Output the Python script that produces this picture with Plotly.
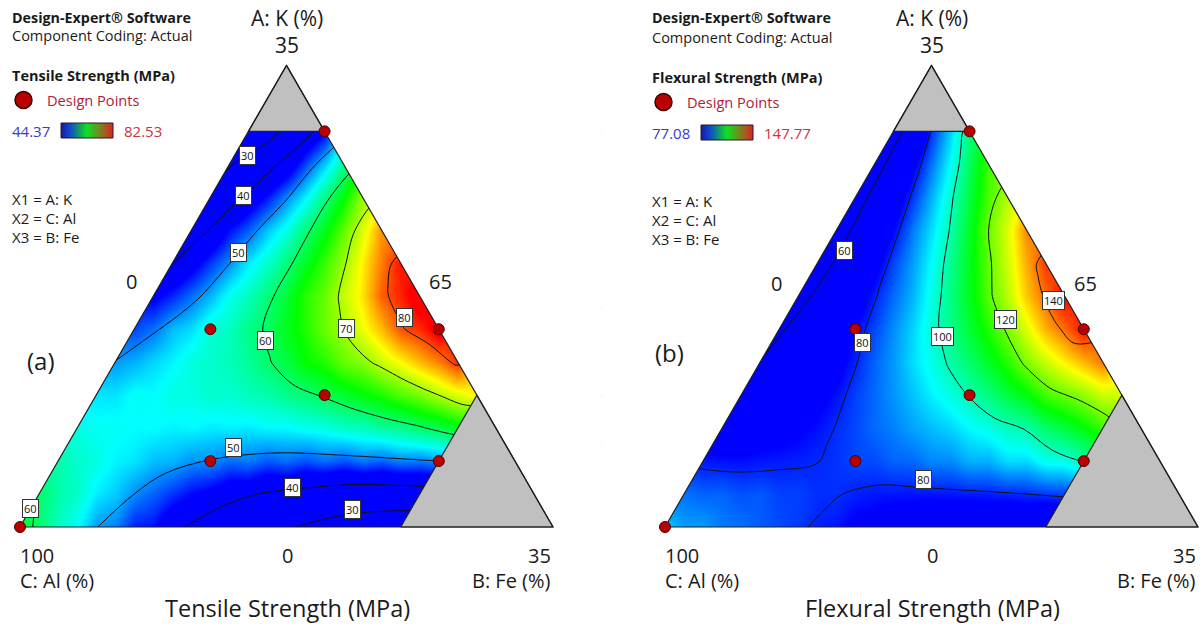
import numpy as np
import plotly.graph_objects as go

# ---------------------------------------------------------------- data
# Mixture: A = K (0-35 %), B = Fe (0-35 %), C = Al (65-100 %)
K_max, Fe_max = 35, 35
K_limit = 30          # K upper constraint (grey top corner)
Fe_limit = 25         # Fe upper constraint (grey right corner)

design_K = [30, 15, 10, 15, 5, 5, 0]
design_Fe = [5, 20, 15, 5, 10, 25, 0]

grid_step = 2.5       # spacing (in % K and % Fe) of the values

tensile_rows = [
    [62, 56, 50.2, 45.5, 41.2, 37.5, 34, 30.8, 27.5, 24.5, 23, 22, 21.5, 21, 21],
    [59.5, 56, 52, 48, 44.5, 41.5, 39.5, 38, 36.5, 36.5, 37, 38, 38.5, 39],
    [57, 55, 53, 51.2, 49.8, 49, 48.5, 48.5, 48.8, 49.3, 50, 51, 52],
    [55, 54.3, 54, 53.8, 53.5, 53.8, 54.5, 56, 57.5, 59.5, 62.5, 66],
    [53, 54.3, 55, 55.8, 56.5, 58.3, 60.4, 63, 66.3, 70, 73.5],
    [50.2, 52.5, 55.3, 56.5, 59.6, 63.5, 67.3, 71, 75.5, 81],
    [47, 51.5, 55.5, 58.5, 62.5, 67.5, 72.5, 79.5, 84],
    [43.5, 48.5, 54.5, 59, 65, 70.8, 79, 84.5],
    [39.8, 46.5, 53.3, 59, 65.5, 73.5, 82],
    [36.2, 44.8, 51.8, 59, 67, 77],
    [32.7, 41.5, 49.5, 58.5, 69],
    [29.1, 37.5, 47, 58],
    [25.6, 31, 44],
    [22, 36],
    [18.5],
]
flexural_rows = [
    [91, 88, 85, 82.2, 79.3, 76, 73, 70.5, 68.5, 67, 66, 65, 64.5, 64, 64],
    [85, 84, 83.2, 81.5, 80.3, 78.5, 78.3, 78.5, 79, 80, 81.3, 83, 85, 87],
    [78.5, 78, 78.8, 79.8, 82, 84, 86.5, 89.5, 92.5, 96, 100.4, 105, 110],
    [72, 74, 76.5, 80.2, 84.5, 88.5, 92, 96.5, 100.5, 108, 116.5, 124],
    [66, 71, 75.5, 81.5, 87.5, 94, 100.4, 108, 117, 122.5, 127],
    [60.3, 67, 75, 84, 92.5, 101, 110, 121.5, 131, 139.5],
    [58.5, 67.5, 77.5, 87, 97.8, 109, 121, 135.5, 147],
    [56, 68, 79.3, 89.5, 103.5, 118.5, 134, 148],
    [54.5, 68, 82, 95, 110.5, 127, 144],
    [54, 69.5, 85.5, 100.5, 120, 138.5],
    [54, 72.5, 89.5, 108, 125],
    [54, 75.5, 95, 117],
    [53.5, 80.5, 104],
    [53, 87],
    [53],
]

tensile_range = [44.37, 82.53]
flexural_range = [77.08, 147.77]
tensile_levels = [30, 40, 50, 60, 70, 80]
flexural_levels = [60, 80, 100, 120, 140]

tensile_label_text = ["30", "40", "50", "60", "70", "80", "50", "40", "30", "60"]
flexural_label_text = ["60", "80", "100", "120", "140", "80"]

titles = ["Tensile Strength (MPa)", "Flexural Strength (MPa)"]
tags = ["(a)", "(b)"]

# ---------------------------------------------------------------- layout constants (pixels)
W, HPX = 1203, 628
FONT = "Open Sans"
tri_left_px = [20, 665]
tri_base_px = 527
tri_side_px = 533
S = tri_side_px / K_max
R3 = np.sqrt(3) / 2
text_dx = [0, 640]
text_dy = [0, 2]
tri_dx = [0, 645]

tensile_label_px = [(247, 155), (243, 196), (238, 253), (265, 340), (346, 328), (404, 317),
                    (233, 447), (292, 487), (352, 509), (30, 508)]
flexural_label_px = [(844, 250), (862, 342), (942, 336), (1005, 319), (1053, 301), (923, 479)]

DE_SCALE = [[0, '#0000ff'], [0.25, '#00ffff'], [0.5, '#00ff00'], [0.75, '#ffff00'], [1, '#ff0000']]
LEGEND_SCALE = [[0, '#1a1a9a'], [0.15, '#1040d0'], [0.5, '#10e020'], [0.8, '#907020'], [1, '#e02020']]


def xy(K, Fe):
    K = np.asarray(K, float)
    Fe = np.asarray(Fe, float)
    return Fe + K / 2, K * R3


def build_grid(rows):
    """rectilinear (checkerboard) grid for the smooth colour fill"""
    half = grid_step / 2
    nx = int(round(Fe_max / half)) + 1
    ny = len(rows)
    gx = np.arange(nx) * half
    gy = np.arange(ny) * grid_step * R3
    Z = [[None] * nx for _ in range(ny)]
    for i, row in enumerate(rows):
        K = i * grid_step
        for j, v in enumerate(row):
            Fe = j * grid_step
            c = int(round((Fe + K / 2) / half))
            Z[i][c] = v
    return gx, gy, Z


def build_lattice(rows):
    """ternary lattice (carpet a = K, b = Fe) for the contour lines"""
    K_vals = [i * grid_step for i in range(len(rows))]
    Fe_vals = [j * grid_step for j in range(len(rows[0]))]
    X = [[Fe + K / 2 for K in K_vals] for Fe in Fe_vals]
    Y = [[K * R3 for K in K_vals] for Fe in Fe_vals]
    Z = [[(rows[i][j] if j < len(rows[i]) else None) for i in range(len(K_vals))]
         for j in range(len(Fe_vals))]
    return K_vals, Fe_vals, X, Y, Z


def px2data(p, px, py):
    return (px - tri_left_px[p]) / S, (tri_base_px - py) / S


HIDDEN_CARPET_AXIS = dict(showgrid=False, showline=False, startline=False, endline=False,
                          showticklabels='none', minorgridcount=0,
                          gridcolor='rgba(0,0,0,0)', linecolor='rgba(0,0,0,0)')

fig = go.Figure()

panels = [
    dict(rows=tensile_rows, rng=tensile_range, levels=tensile_levels,
         labels=tensile_label_text, label_px=tensile_label_px),
    dict(rows=flexural_rows, rng=flexural_range, levels=flexural_levels,
         labels=flexural_label_text, label_px=flexural_label_px),
]

for p, P in enumerate(panels):
    xa = 'x' if p == 0 else 'x2'
    ya = 'y' if p == 0 else 'y2'
    gx, gy, Z = build_grid(P['rows'])
    lv = P['levels']
    # smooth colour field
    fig.add_trace(go.Heatmap(
        x=gx, y=gy, z=Z, xaxis=xa, yaxis=ya, connectgaps=True, zsmooth='best',
        zauto=False, zmin=P['rng'][0], zmax=P['rng'][1],
        colorscale=DE_SCALE, showscale=False, hoverinfo='skip'))

    # contour lines on the ternary lattice
    Ka, Fb, CX, CY, CZ = build_lattice(P['rows'])
    cid = 'carpet%d' % p
    fig.add_trace(go.Carpet(carpet=cid, a=Ka, b=Fb, x=CX, y=CY, xaxis=xa, yaxis=ya,
                            aaxis=HIDDEN_CARPET_AXIS, baxis=HIDDEN_CARPET_AXIS,
                            color='rgba(0,0,0,0)'))
    fig.add_trace(go.Contourcarpet(
        carpet=cid, a=Ka, b=Fb, z=CZ, xaxis=xa, yaxis=ya,
        autocontour=False,
        contours=dict(start=min(lv), end=max(lv), size=lv[1] - lv[0],
                      coloring='none', showlabels=False),
        line=dict(color='#101010', width=1, smoothing=1.0),
        showscale=False))

    # white mask outside the simplex
    tx, ty = xy([0, K_max, 0], [0, 0, Fe_max])
    big_x = [-80, 120, 120, -80, -80]
    big_y = [-80, -80, 120, 120, -80]
    mx = big_x + [tx[0], tx[1], tx[2], tx[0], big_x[0]]
    my = big_y + [ty[0], ty[1], ty[2], ty[0], big_y[0]]
    fig.add_trace(go.Scatter(x=mx, y=my, xaxis=xa, yaxis=ya, mode='lines', fill='toself',
                             fillcolor='white', line=dict(width=0, color='white'), hoverinfo='skip'))

    # grey infeasible corners
    gtx, gty = xy([K_limit, K_max, K_limit, K_limit], [0, 0, K_max - K_limit, 0])
    fig.add_trace(go.Scatter(x=gtx, y=gty, xaxis=xa, yaxis=ya, mode='lines', fill='toself',
                             fillcolor='#c0c0c0', line=dict(width=1.2, color='#202020'), hoverinfo='skip'))
    grx, gry = xy([0, 0, K_max - Fe_limit, 0], [Fe_limit, Fe_max, Fe_limit, Fe_limit])
    fig.add_trace(go.Scatter(x=grx, y=gry, xaxis=xa, yaxis=ya, mode='lines', fill='toself',
                             fillcolor='#c0c0c0', line=dict(width=1.2, color='#202020'), hoverinfo='skip'))

    # triangle outline
    fig.add_trace(go.Scatter(x=list(tx) + [tx[0]], y=list(ty) + [ty[0]], xaxis=xa, yaxis=ya,
                             mode='lines', line=dict(width=1.2, color='#202020'), hoverinfo='skip'))

    # design points
    dx, dy = xy(design_K, design_Fe)
    fig.add_trace(go.Scatter(x=dx, y=dy, xaxis=xa, yaxis=ya, mode='markers',
                             marker=dict(size=11, color='#b80000', line=dict(width=1, color='#4a0000')),
                             hoverinfo='skip'))

    # legend symbol
    lx, ly = px2data(p, 23.5 + text_dx[p], 100 + text_dy[p])
    fig.add_trace(go.Scatter(x=[lx], y=[ly], xaxis=xa, yaxis=ya, mode='markers',
                             marker=dict(size=17, color='#b80000', line=dict(width=1.5, color='#3a0000')),
                             hoverinfo='skip'))
    # legend gradient bar
    bx0, by0 = px2data(p, 61 + text_dx[p], 123 + text_dy[p])
    bx1, by1 = px2data(p, 113 + text_dx[p], 138 + text_dy[p])
    fig.add_trace(go.Scatter(x=[bx0, bx1, bx1, bx0, bx0], y=[by0, by0, by1, by1, by0],
                             xaxis=xa, yaxis=ya, mode='lines', fill='toself',
                             fillgradient=dict(type='horizontal', colorscale=LEGEND_SCALE),
                             line=dict(width=1, color='#202020'), hoverinfo='skip'))

# axes
for p in range(2):
    suf = '' if p == 0 else '2'
    d0, d1 = p * 0.5, (p + 1) * 0.5
    xr = [(d0 * W - tri_left_px[p]) / S, (d1 * W - tri_left_px[p]) / S]
    yr = [-(HPX - tri_base_px) / S, tri_base_px / S]
    fig.update_layout(**{
        f'xaxis{suf}': dict(domain=[d0, d1], range=xr, visible=False, fixedrange=True,
                            anchor='y' + suf),
        f'yaxis{suf}': dict(domain=[0, 1], range=yr, visible=False, fixedrange=True,
                            anchor='x' + suf),
    })


def add_text(text, px, py, size, color='#1a1a1a', xanchor='center', yanchor='middle', **kw):
    fig.add_annotation(x=px / W, y=1 - py / HPX, xref='paper', yref='paper', text=text,
                       showarrow=False, xanchor=xanchor, yanchor=yanchor,
                       font=dict(family=FONT, size=size, color=color), **kw)


for p, P in enumerate(panels):
    ox, oy, tdx = text_dx[p], text_dy[p], tri_dx[p]
    add_text('<b>Design-Expert® Software</b>', 10 + ox, 17, 14.3, xanchor='left')
    add_text('Component Coding: Actual', 10 + ox, 36 + oy, 14.5, xanchor='left')
    add_text('<b>' + titles[p] + '</b>', 10 + ox, 75 + oy, 14.5, xanchor='left')
    add_text('Design Points', 45 + ox, 100 + oy, 14.6, color='#b0203a', xanchor='left')
    add_text('%g' % P['rng'][0], 10 + ox, 131 + oy, 15, color='#3a3acc', xanchor='left')
    add_text('%g' % P['rng'][1], 122 + ox, 131 + oy, 15, color='#cc3344', xanchor='left')
    add_text('X1 = A: K', 10 + ox, 199 + oy, 15, xanchor='left')
    add_text('X2 = C: Al', 10 + ox, 218 + oy, 15, xanchor='left')
    add_text('X3 = B: Fe', 10 + ox, 237 + oy, 15, xanchor='left')

    add_text('A: K (%)', 287 + tdx, 18, 21)
    add_text('%d' % K_max, 287 + tdx, 45, 21)
    add_text('0', 131 + tdx, 281 + oy, 20)
    add_text('%d' % (100 - K_max), 440 + tdx, 281 + oy, 20)
    add_text(tags[p], 41 + tdx + (-17 if p == 1 else 0), 360 - (8 if p == 1 else 0), 24)
    add_text('100', 18 + tdx, 555, 20, xanchor='left')
    add_text('0', 287 + tdx, 555, 20)
    add_text('%d' % Fe_max, 553 + tdx, 555, 20, xanchor='right')
    add_text('C: Al (%)', 18 + tdx, 580, 20, xanchor='left')
    add_text('B: Fe (%)', 553 + tdx, 580, 20, xanchor='right')
    add_text(titles[p], 287 + tdx, 608, 23.5)

    for t, (lxp, lyp) in zip(P['labels'], P['label_px']):
        add_text(t, lxp, lyp, 11, color='#111111', bgcolor='white', bordercolor='#333333',
                 borderwidth=1, borderpad=1)

fig.update_layout(width=W, height=HPX, margin=dict(l=0, r=0, t=0, b=0),
                  paper_bgcolor='white', plot_bgcolor='white', showlegend=False)

fig.write_html("out.html", include_plotlyjs=True, config={'displayModeBar': False},
               post_script="document.body.style.margin='0px';")
